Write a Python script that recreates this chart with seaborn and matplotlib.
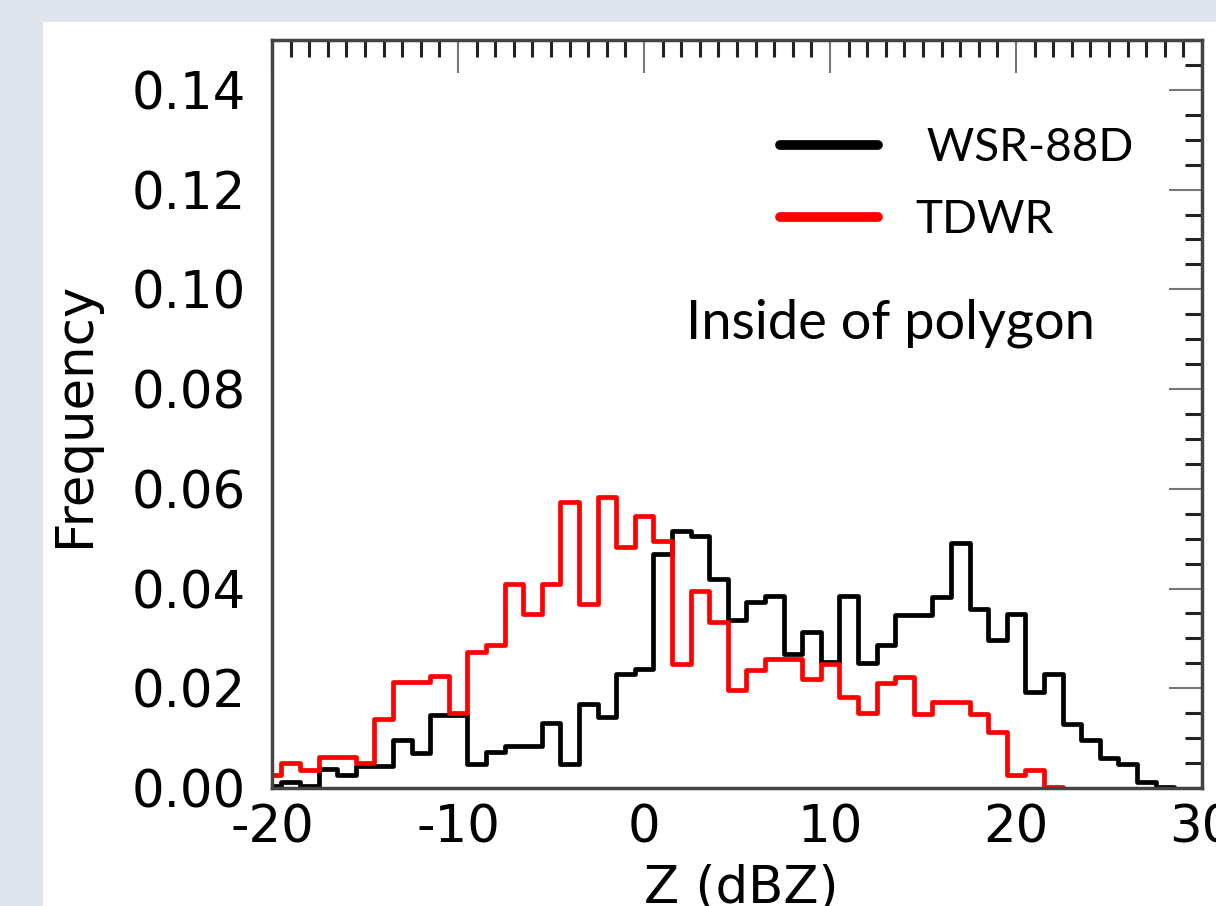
import numpy as np
import pandas as pd
import matplotlib
matplotlib.use("Agg")
import matplotlib.pyplot as plt
import seaborn as sns
from matplotlib.ticker import MultipleLocator
from matplotlib.lines import Line2D
from matplotlib.patches import Rectangle

# ---- data (bin centres in dBZ, frequency per 1-dBZ bin) ----
z_centers = list(range(-20, 30))
wsr88d_freq = [0.0004, 0.0012, 0.0004, 0.0038, 0.0026, 0.0045, 0.0045, 0.0096, 0.0071, 0.0146,
               0.0146, 0.0048, 0.0073, 0.0085, 0.0085, 0.0131, 0.0049, 0.0169, 0.0143, 0.0229,
               0.0239, 0.0469, 0.0516, 0.0506, 0.0419, 0.0336, 0.0373, 0.0386, 0.0269, 0.0313,
               0.0253, 0.0386, 0.0250, 0.0287, 0.0347, 0.0347, 0.0384, 0.0491, 0.0359, 0.0297,
               0.0349, 0.0193, 0.0229, 0.0129, 0.0096, 0.0061, 0.0048, 0.0013, 0.0003, 0.0]
tdwr_freq = [0.0026, 0.0051, 0.0036, 0.0063, 0.0063, 0.0050, 0.0138, 0.0213, 0.0213, 0.0224,
             0.0150, 0.0273, 0.0286, 0.0410, 0.0348, 0.0410, 0.0573, 0.0369, 0.0583, 0.0483,
             0.0546, 0.0496, 0.0249, 0.0396, 0.0333, 0.0196, 0.0236, 0.0259, 0.0259, 0.0219,
             0.0249, 0.0183, 0.0151, 0.0211, 0.0223, 0.0149, 0.0173, 0.0173, 0.0149, 0.0113,
             0.0026, 0.0037, 0.0003, 0.0, 0.0, 0.0, 0.0, 0.0, 0.0, 0.0]
series_names = ["WSR-88D", "TDWR"]
series_colors = ["black", "red"]
x_ticks = [-20, -10, 0, 10, 20, 30]
y_ticks = [0.00, 0.02, 0.04, 0.06, 0.08, 0.10, 0.12, 0.14]

sns.set_style("white")
plt.rcParams["font.family"] = ["DejaVu Sans"]
plt.rcParams["axes.unicode_minus"] = False
plt.rcParams["text.color"] = "black"
plt.rcParams["axes.labelcolor"] = "black"

fig = plt.figure(figsize=(12.16, 9.06), dpi=100, facecolor="#dfe4ed")
fig.patches.append(Rectangle((43 / 1216, 0), 1 - 43 / 1216, (906 - 22) / 906,
                             transform=fig.transFigure, facecolor="white",
                             edgecolor="none", zorder=-10))
ax = fig.add_axes([272 / 1216, 118 / 906, 930 / 1216, 748 / 906])
ax.set_facecolor("white")

for name, color, freq in zip(series_names, series_colors, [wsr88d_freq, tdwr_freq]):
    df = pd.DataFrame({"Z": z_centers, "freq": freq})
    last = max(i for i, v in enumerate(freq) if v > 0)
    df = df.iloc[: last + 1]
    sns.histplot(data=df, x="Z", weights="freq", binwidth=1,
                 binrange=(z_centers[0] - 0.5, z_centers[last] + 0.5),
                 element="step", fill=False, color=color, linewidth=3.4,
                 legend=False, ax=ax)

ax.set_xlim(-20, 30)
ax.set_ylim(0, 0.15)
ax.set_xticks(x_ticks)
ax.set_yticks(y_ticks)
ax.xaxis.set_minor_locator(MultipleLocator(1))
ax.yaxis.set_minor_locator(MultipleLocator(0.005))
ax.set_xticklabels([str(t) for t in x_ticks])
ax.set_yticklabels([f"{t:.2f}" for t in y_ticks])
ax.tick_params(which="both", direction="in", top=True, right=True, labelsize=37,
               labelcolor="black")
ax.tick_params(which="major", length=24, width=1.5, color="#777777")
ax.tick_params(which="minor", length=12, width=2.2, color="#222222")
ax.tick_params(axis="y", which="major", pad=19)
ax.tick_params(axis="x", which="major", pad=11)
for sp in ax.spines.values():
    sp.set_linewidth(2.5)
    sp.set_color("#444444")
    sp.set_visible(True)

ax.set_xlabel("Z (dBZ)", fontsize=37)
ax.set_ylabel("Frequency", fontsize=37)
ax.xaxis.set_label_coords(0.505, -0.102)
ax.yaxis.set_label_coords(-0.185, 0.5)

handles = [Line2D([], [], color=c, lw=7) for c in series_colors]
leg = ax.legend(handles, [" " + series_names[0], series_names[1]], loc="upper left",
                bbox_to_anchor=(0.546, 0.884), frameon=False, borderpad=0,
                borderaxespad=0, handlelength=2.14, handletextpad=0.81,
                labelspacing=0.65, prop={"family": "Lato", "size": 33})
ax.text(0.445, 0.6016, "Inside of polygon", transform=ax.transAxes, fontsize=39,
        family="Lato", ha="left", va="baseline")

fig.savefig("out.png", dpi=100, facecolor=fig.get_facecolor())
